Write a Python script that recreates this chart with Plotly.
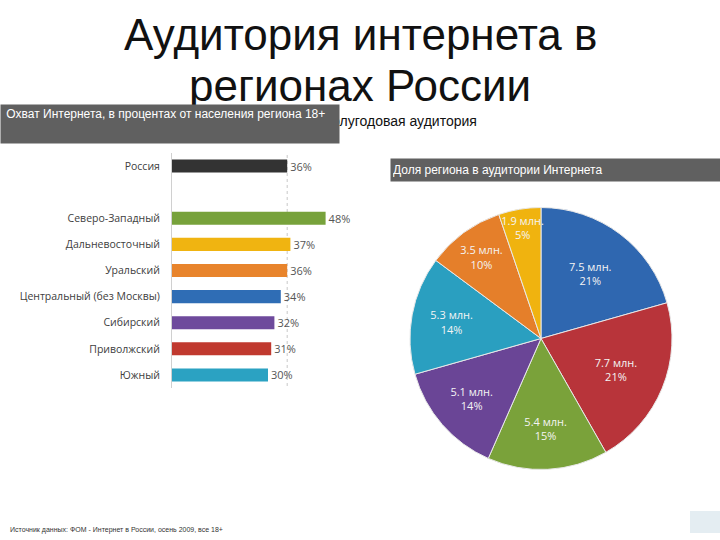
import plotly.graph_objects as go

# ---- data ----
bar_categories = ["Россия", " ", "Северо-Западный", "Дальневосточный", "Уральский",
                  "Центральный (без Москвы)", "Сибирский", "Приволжский", "Южный"]
bar_values = [36, None, 48, 37, 36, 34, 32, 31, 30]
bar_colors = ["#333333", "#ffffff", "#77a23b", "#f0b411", "#e8842c",
              "#2f6db5", "#6e4a9c", "#c0392f", "#2ba2c2"]
russia_value = 36

pie_regions = ["Центральный (без Москвы)", "Приволжский", "Северо-Западный", "Сибирский",
               "Южный", "Уральский", "Дальневосточный"]
pie_millions = [7.5, 7.7, 5.4, 5.1, 5.3, 3.5, 1.9]
pie_percent = [21, 21, 15, 14, 14, 10, 5]
pie_colors = ["#2f67b0", "#b8343a", "#7aa23a", "#6a4596", "#2a9fc0", "#e57f2a", "#f0b30f"]

title_lines = ["Аудитория интернета в", "регионах России"]
bar_title = "Охват Интернета, в процентах от населения региона 18+"
hidden_title = "Полугодовая аудитория"
pie_title = "Доля региона в аудитории Интернета"
source_text = "Источник данных: ФОМ - Интернет в России, осень 2009, все 18+"

W, H = 720, 540
def px(x): return x / W
def py(y): return 1 - y / H

fig = go.Figure()

bar_text = [f"{v}%" if v is not None else "" for v in bar_values]
fig.add_trace(go.Bar(
    x=bar_values, y=bar_categories, orientation="h",
    marker=dict(color=bar_colors, line=dict(width=0)),
    text=bar_text, textposition="outside", cliponaxis=False,
    textfont=dict(family="Open Sans, sans-serif", size=10, color="#555555"),
    width=0.5, xaxis="x", yaxis="y", showlegend=False, hoverinfo="skip",
))

pie_text = [f"{m} млн.<br>{p}%" for m, p in zip(pie_millions, pie_percent)]
fig.add_trace(go.Pie(
    labels=pie_regions, values=pie_millions, text=pie_text,
    textinfo="text", textposition="inside", insidetextorientation="horizontal",
    marker=dict(colors=pie_colors, line=dict(color="#e8e8e8", width=1)),
    textfont=dict(family="Open Sans, sans-serif", size=11, color="#f4f4f4"),
    sort=False, direction="clockwise", rotation=0,
    domain=dict(x=[px(410), px(672)], y=[py(470), py(207)]),
    showlegend=False, hoverinfo="skip",
))

fig.update_layout(
    width=W, height=H, margin=dict(l=0, r=0, t=0, b=0),
    paper_bgcolor="white", plot_bgcolor="white",
    bargap=0.5,
    uniformtext=dict(minsize=11, mode="show"),
    xaxis=dict(domain=[px(172), px(340)], range=[0, 52.5], visible=False, fixedrange=True),
    yaxis=dict(domain=[py(388), py(153)], autorange="reversed", type="category",
               categoryorder="array", categoryarray=bar_categories,
               showline=True, linecolor="#d0d0d0", linewidth=1,
               ticks="", ticklabelstandoff=9, showgrid=False, zeroline=False,
               tickfont=dict(family="Open Sans, sans-serif", size=10.5, color="#404040")),
)

shapes = [
    dict(type="line", xref="x", yref="paper", x0=russia_value, x1=russia_value,
         y0=py(386), y1=py(155), line=dict(color="#c8c8c8", width=1, dash="dot"), layer="below"),
    dict(type="rect", xref="paper", yref="paper", x0=px(690), x1=px(720), y0=py(533), y1=py(511),
         fillcolor="#e4edf2", line=dict(width=0), layer="below"),
]
fig.update_layout(shapes=shapes)

ann = []
for line_text, yc in zip(title_lines, [35, 86]):
    ann.append(dict(text=line_text, x=0.5, y=py(yc), xref="paper", yref="paper",
                    showarrow=False, xanchor="center", yanchor="middle",
                    font=dict(family="Liberation Sans, Arial, sans-serif", size=44, color="#111111")))
ann.append(dict(text=hidden_title, x=px(320), y=py(121), xref="paper", yref="paper",
                showarrow=False, xanchor="left", yanchor="middle",
                font=dict(family="Liberation Sans, Arial, sans-serif", size=14, color="#111111")))
# gray header boxes (annotations drawn later cover earlier ones)
ann.append(dict(text="&nbsp;" + bar_title + "<br> ", x=0, y=py(104), xref="paper", yref="paper",
                showarrow=False, xanchor="left", yanchor="top", align="left",
                width=334, height=34, valign="top", borderpad=2,
                bgcolor="#606060",
                font=dict(family="Liberation Sans, Arial, sans-serif", size=12, color="white")))
ann.append(dict(text=pie_title, x=px(390), y=py(158), xref="paper", yref="paper",
                showarrow=False, xanchor="left", yanchor="top", align="left",
                width=326, height=18, valign="middle", borderpad=2,
                bgcolor="#606060",
                font=dict(family="Liberation Sans, Arial, sans-serif", size=12, color="white")))
ann.append(dict(text=source_text, x=px(8), y=py(530), xref="paper", yref="paper",
                showarrow=False, xanchor="left", yanchor="middle",
                font=dict(family="Liberation Sans, Arial, sans-serif", size=7, color="#333333")))
fig.update_layout(annotations=ann)

fig.write_html("out.html", config={"displayModeBar": False},
               post_script="document.body.style.margin='0';")
